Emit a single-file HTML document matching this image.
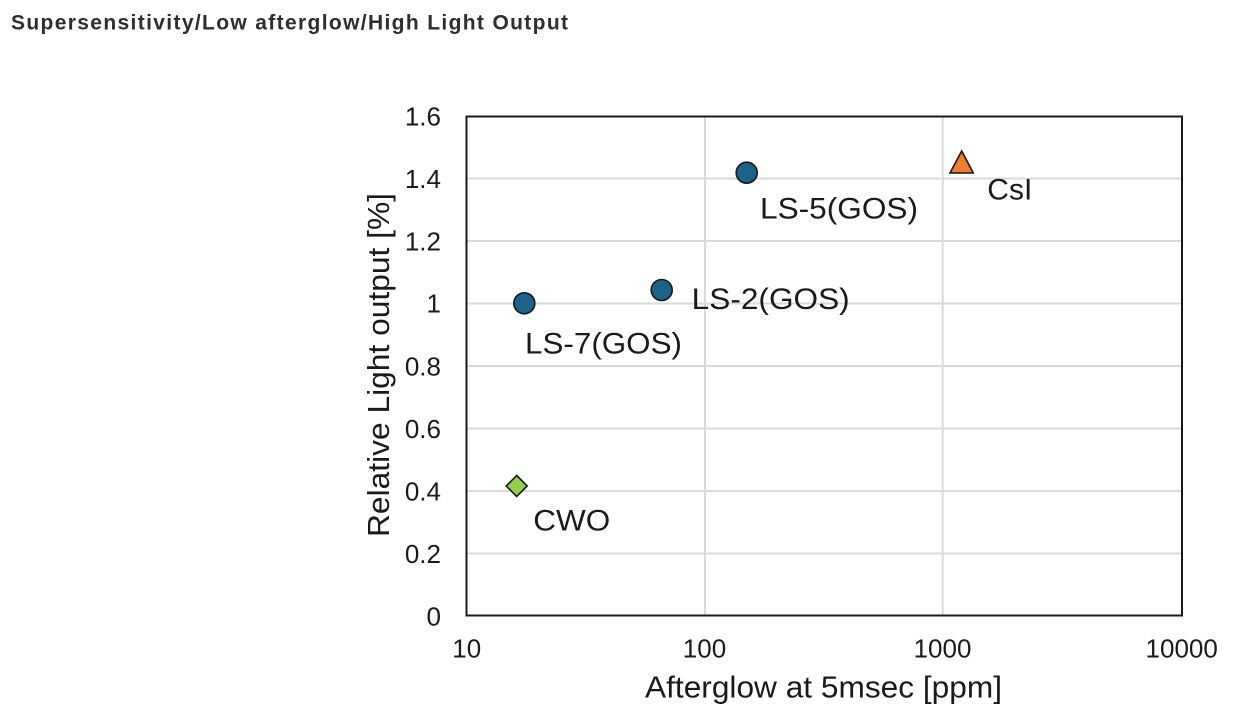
<!DOCTYPE html>
<html>
<head>
<meta charset="utf-8">
<style>
  html,body{margin:0;padding:0;background:#fff;}
  body{width:1240px;height:717px;overflow:hidden;}
  svg{display:block;}
  text{font-family:"Liberation Sans", Arial, sans-serif;}
</style>
</head>
<body>
<svg width="1240" height="717" viewBox="0 0 1240 717" xmlns="http://www.w3.org/2000/svg">
  <rect x="0" y="0" width="1240" height="717" fill="#fff"/>
  <!-- Title -->
  <text x="11" y="29.3" font-size="21" font-weight="bold" fill="#2e2e2e" textLength="557" lengthAdjust="spacing">Supersensitivity/Low afterglow/High Light Output</text>

  <!-- gridlines -->
  <g stroke="#d9d9d9" stroke-width="2" fill="none">
    <line x1="466" y1="178.5" x2="1182" y2="178.5"/>
    <line x1="466" y1="241" x2="1182" y2="241"/>
    <line x1="466" y1="303.5" x2="1182" y2="303.5"/>
    <line x1="466" y1="366" x2="1182" y2="366"/>
    <line x1="466" y1="428.5" x2="1182" y2="428.5"/>
    <line x1="466" y1="491" x2="1182" y2="491"/>
    <line x1="466" y1="553.5" x2="1182" y2="553.5"/>
    <line x1="705" y1="116" x2="705" y2="615"/>
    <line x1="942.7" y1="116" x2="942.7" y2="615"/>
  </g>
  <!-- frame -->
  <rect x="466.5" y="116.5" width="715.5" height="499" fill="none" stroke="#1a1a1a" stroke-width="2"/>

  <!-- y tick labels -->
  <g font-size="26" fill="#1a1a1a" text-anchor="end">
    <text x="441" y="125.3">1.6</text>
    <text x="441" y="187.8">1.4</text>
    <text x="441" y="250.3">1.2</text>
    <text x="441" y="312.3">1</text>
    <text x="441" y="375.3">0.8</text>
    <text x="441" y="437.8">0.6</text>
    <text x="441" y="500.3">0.4</text>
    <text x="441" y="562.8">0.2</text>
    <text x="441" y="625.3">0</text>
  </g>
  <!-- x tick labels -->
  <g font-size="26" fill="#1a1a1a" text-anchor="middle">
    <text x="466.7" y="657.3">10</text>
    <text x="704.5" y="657.3">100</text>
    <text x="942.5" y="657.3">1000</text>
    <text x="1181.7" y="657.3">10000</text>
  </g>

  <!-- axis titles -->
  <text x="645" y="697.5" font-size="31" fill="#1a1a1a" textLength="357" lengthAdjust="spacingAndGlyphs">Afterglow at 5msec [ppm]</text>
  <text transform="translate(389,537) rotate(-90)" x="0" y="0" font-size="31" fill="#1a1a1a" textLength="344" lengthAdjust="spacingAndGlyphs">Relative Light output [%]</text>

  <!-- data points -->
  <g stroke="#1a1a1a" stroke-width="1.6">
    <circle cx="524.3" cy="303.3" r="10.5" fill="#1c6289"/>
    <circle cx="661.7" cy="290" r="10.5" fill="#1c6289"/>
    <circle cx="746.7" cy="172.7" r="10.5" fill="#1c6289"/>
    <polygon points="516.7,475.5 527.2,486 516.7,496.5 506.2,486" fill="#92d050"/>
    <polygon points="961.7,151 973.3,173 950,173" fill="#ed7d31"/>
  </g>

  <!-- data labels -->
  <g font-size="30" fill="#1a1a1a">
    <text x="525" y="353.3" textLength="157" lengthAdjust="spacingAndGlyphs">LS-7(GOS)</text>
    <text x="691.7" y="309" textLength="158" lengthAdjust="spacingAndGlyphs">LS-2(GOS)</text>
    <text x="760" y="218.3" textLength="158" lengthAdjust="spacingAndGlyphs">LS-5(GOS)</text>
    <text x="987.3" y="199.3" textLength="45" lengthAdjust="spacingAndGlyphs">CsI</text>
    <text x="533.3" y="530.7" textLength="77" lengthAdjust="spacingAndGlyphs">CWO</text>
  </g>
</svg>
</body>
</html>
